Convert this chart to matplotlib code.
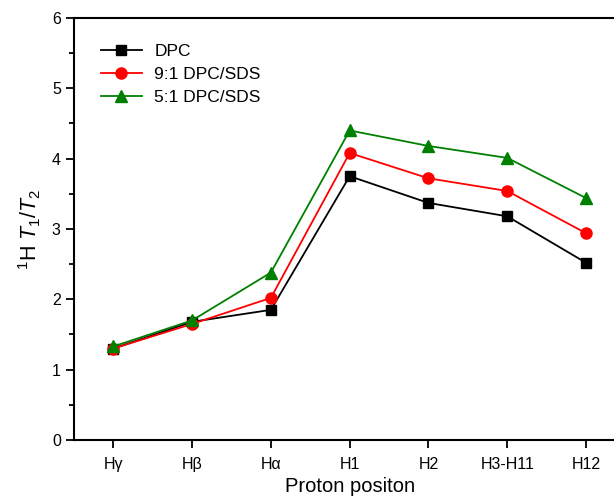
import matplotlib
matplotlib.use('Agg')
import matplotlib.pyplot as plt
from matplotlib.ticker import MultipleLocator

plt.rcParams['font.family'] = ['Liberation Sans', 'DejaVu Sans']
plt.rcParams['mathtext.fontset'] = 'custom'
plt.rcParams['mathtext.rm'] = 'Liberation Sans'
plt.rcParams['mathtext.it'] = 'Liberation Sans:italic'

positions = ['H\u03b3', 'H\u03b2', 'H\u03b1', 'H1', 'H2', 'H3-H11', 'H12']
dpc = [1.30, 1.68, 1.85, 3.75, 3.37, 3.18, 2.52]
dpc_sds_91 = [1.30, 1.65, 2.02, 4.08, 3.72, 3.54, 2.94]
dpc_sds_51 = [1.33, 1.70, 2.38, 4.40, 4.18, 4.01, 3.44]

fig = plt.figure(figsize=(6.14, 4.98), dpi=100)
# axes runs past the right edge, as in the cropped original
ax = fig.add_axes([0.1205, 0.1165, 0.898, 0.8475])

x = range(len(positions))
ax.plot(x, dpc, color='black', marker='s', markersize=7, lw=1.3, label='DPC')
ax.plot(x, dpc_sds_91, color='#ff0000', marker='o', markersize=8, lw=1.3, label='9:1 DPC/SDS')
ax.plot(x, dpc_sds_51, color='#008000', marker='^', markersize=8.5, lw=1.3, label='5:1 DPC/SDS')

ax.set_xlim(-0.5, 6.5)
ax.set_ylim(0, 6)
ax.set_xticks(list(x))
ax.set_xticklabels(positions)
ax.yaxis.set_major_locator(MultipleLocator(1))
ax.yaxis.set_minor_locator(MultipleLocator(0.5))
ax.tick_params(axis='both', direction='out', labelsize=11.5, width=1.3, length=6)
ax.tick_params(axis='y', which='minor', direction='out', width=1.3, length=3.5)
ax.tick_params(axis='x', pad=6)
ax.spines['right'].set_visible(False)
for s in ['left', 'bottom', 'top']:
    ax.spines[s].set_linewidth(1.5)

ax.set_xlabel('Proton positon', fontsize=14.5, labelpad=4)
ax.set_ylabel('$^{1}$H $\\mathit{T}_{1}/\\mathit{T}_{2}$', fontsize=15.5, labelpad=6)

ax.legend(loc='upper left', frameon=False, fontsize=12.5, handlelength=2.4,
          handletextpad=0.7, bbox_to_anchor=(0.02, 0.975), labelspacing=0.45)

fig.savefig('out.png', dpi=100)
